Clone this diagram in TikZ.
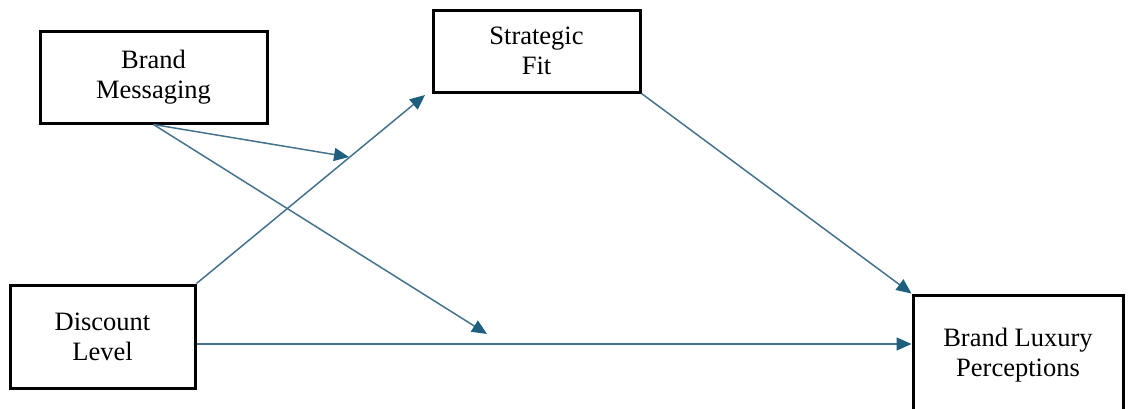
\documentclass[tikz,border=0pt]{standalone}
\usepackage{fontspec}
\setmainfont{Liberation Serif}
\usetikzlibrary{arrows.meta}
\definecolor{linec}{RGB}{70,115,140}
\definecolor{tipc}{RGB}{30,95,128}
\tikzset{
  box/.style={draw=black, line width=3pt, fill=white, align=center, inner sep=0pt,
    font=\fontsize{26.5}{30}\selectfont},
  conn/.style={draw=linec, line width=1.5pt,
    -{Triangle[length=15pt,width=13pt,color=tipc]}}
}
\begin{document}
\begin{tikzpicture}[x=1pt,y=-1pt]
\clip (0,0) rectangle (1130,408);
\fill[white] (0,0) rectangle (1130,408);
\node[box, minimum width=227pt, minimum height=92pt] (bm) at (153.5,77) {Brand\\Messaging};
\node[box, minimum width=207pt, minimum height=82pt] (sf) at (536.5,51) {Strategic\\Fit};
\node[box, minimum width=185pt, minimum height=103pt] (dl) at (102.5,336.5) {Discount\\Level};
\node[box, minimum width=210pt, minimum height=120pt] (bl) at (1018,355) {Brand Luxury\\Perceptions};
\coordinate (m1) at (349,157);
\coordinate (m2) at (487,334);
\coordinate (m3) at (425,95);
\coordinate (h) at (0,344);
\draw[conn] (bm.south) -- (m1);
\draw[conn] (bm.south) -- (m2);
\draw[conn] (dl.north east) -- (m3);
\draw[conn] (sf.south east) -- (bl.north west);
\draw[conn] (dl.east |- h) -- (bl.west |- h);
\end{tikzpicture}
\end{document}
